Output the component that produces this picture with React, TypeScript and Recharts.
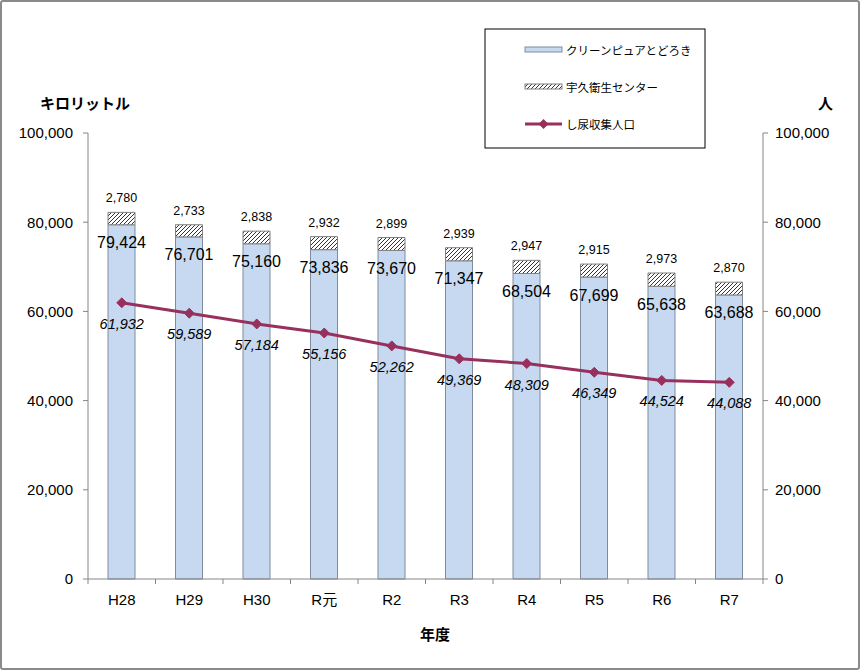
import React from 'react';
import {
  ComposedChart,
  Bar,
  Line,
  XAxis,
  YAxis,
  LabelList,
} from 'recharts';

// 年度
const categories = ['H28', 'H29', 'H30', 'R元', 'R2', 'R3', 'R4', 'R5', 'R6', 'R7'];
// クリーンピュアとどろき 処理量 (キロリットル)
const todorokiValues = [79424, 76701, 75160, 73836, 73670, 71347, 68504, 67699, 65638, 63688];
// 宇久衛生センター 処理量 (キロリットル)
const ukuValues = [2780, 2733, 2838, 2932, 2899, 2939, 2947, 2915, 2973, 2870];
// し尿収集人口 (人)
const populationValues = [61932, 59589, 57184, 55156, 52262, 49369, 48309, 46349, 44524, 44088];
const axisTicks = [0, 20000, 40000, 60000, 80000, 100000];

const data = categories.map((name, i) => ({
  name,
  todoroki: todorokiValues[i],
  uku: ukuValues[i],
  population: populationValues[i],
}));

const W = 860;
const H = 670;
const MARGIN = { top: 133, right: 7, bottom: 61, left: 8 };
const LEFT_AXIS_W = 80;
const RIGHT_AXIS_W = 90;
const BAND = (W - MARGIN.left - MARGIN.right - LEFT_AXIS_W - RIGHT_AXIS_W) / categories.length;

const NUM_FONT = '"Liberation Sans", Arial, sans-serif';
const JP_FONT = '"Noto Sans CJK JP", "Noto Sans", sans-serif';
const AXIS_COLOR = '#868686';
const LINE_COLOR = '#98305E';
const BAR_FILL = '#C6D9F1';
const BAR_STROKE = '#7F8CA0';

const fmt = (v: number) => v.toLocaleString('en-US');

const XTick = (props: any) => {
  const { x, y, payload, index } = props;
  const axisY = y - 5;
  const left = x - BAND / 2;
  const right = x + BAND / 2;
  return (
    <g>
      <line x1={left} x2={left} y1={axisY} y2={axisY + 5} stroke={AXIS_COLOR} />
      {index === categories.length - 1 && (
        <line x1={right} x2={right} y1={axisY} y2={axisY + 5} stroke={AXIS_COLOR} />
      )}
      <text
        x={x}
        y={axisY + 20}
        textAnchor="middle"
        dominantBaseline="central"
        fontSize={15}
        fontFamily={`${NUM_FONT.split(',')[0]}, ${JP_FONT}`}
        fill="#000"
      >
        {payload.value}
      </text>
    </g>
  );
};

const TodorokiLabel = (props: any) => {
  const { x, y, width, value } = props;
  return (
    <text
      x={x + width / 2}
      y={y + 18}
      textAnchor="middle"
      dominantBaseline="central"
      fontSize={16}
      fontFamily={NUM_FONT}
      fill="#000"
    >
      {fmt(value)}
    </text>
  );
};

const UkuLabel = (props: any) => {
  const { x, y, width, value } = props;
  return (
    <text
      x={x + width / 2}
      y={y - 14}
      textAnchor="middle"
      dominantBaseline="central"
      fontSize={12.5}
      fontFamily={NUM_FONT}
      fill="#000"
    >
      {fmt(value)}
    </text>
  );
};

const PopulationLabel = (props: any) => {
  const { x, y, value } = props;
  return (
    <text
      x={x}
      y={y + 21}
      textAnchor="middle"
      dominantBaseline="central"
      fontSize={14.5}
      fontStyle="italic"
      fontFamily={NUM_FONT}
      fill="#000"
    >
      {fmt(value)}
    </text>
  );
};

const Diamond = (props: any) => {
  const { cx, cy } = props;
  if (cx == null || cy == null) return null;
  const r = 5;
  return (
    <path
      d={`M${cx},${cy - r} L${cx + r},${cy} L${cx},${cy + r} L${cx - r},${cy} Z`}
      fill={LINE_COLOR}
      stroke={LINE_COLOR}
    />
  );
};

const LegendBox = () => (
  <svg
    width={222}
    height={121}
    style={{ position: 'absolute', left: 484, top: 28, overflow: 'visible' }}
  >
    <defs>
      <pattern id="hatchLegend" patternUnits="userSpaceOnUse" width="4" height="4">
        <rect width="4" height="4" fill="#fff" />
        <path d="M-1,1 l2,-2 M0,4 l4,-4 M3,5 l2,-2" stroke="#333" strokeWidth={1} />
      </pattern>
    </defs>
    <rect x={1} y={1} width={220} height={119} fill="#fff" stroke="#000" strokeWidth={1} />
    <rect x={41} y={19} width={37} height={5} fill={BAR_FILL} stroke={BAR_STROKE} />
    <text x={82} y={22} dominantBaseline="central" fontSize={11.5} fontFamily={JP_FONT}>
      クリーンピュアとどろき
    </text>
    <rect x={41} y={56} width={37} height={5} fill="url(#hatchLegend)" stroke="#808080" />
    <text x={82} y={59} dominantBaseline="central" fontSize={11.5} fontFamily={JP_FONT}>
      宇久衛生センター
    </text>
    <line x1={41} x2={78} y1={96} y2={96} stroke={LINE_COLOR} strokeWidth={3} />
    <path d="M59.5,91 L64.5,96 L59.5,101 L54.5,96 Z" fill={LINE_COLOR} />
    <text x={82} y={96} dominantBaseline="central" fontSize={11.5} fontFamily={JP_FONT}>
      し尿収集人口
    </text>
  </svg>
);

const titleStyle: React.CSSProperties = {
  position: 'absolute',
  fontFamily: JP_FONT,
  fontWeight: 'bold',
  fontSize: 15,
  color: '#000',
  lineHeight: '20px',
  whiteSpace: 'nowrap',
};

export default function App() {
  return (
    <div
      style={{
        position: 'absolute',
        left: 0,
        top: 0,
        width: W,
        height: H,
        background: '#fff',
        overflow: 'hidden',
      }}
    >
      <ComposedChart width={W} height={H} data={data} margin={MARGIN}>
        <defs>
          <pattern id="hatch" patternUnits="userSpaceOnUse" width="4" height="4">
            <rect width="4" height="4" fill="#fff" />
            <path d="M-1,1 l2,-2 M0,4 l4,-4 M3,5 l2,-2" stroke="#333" strokeWidth={1} />
          </pattern>
        </defs>
        <XAxis
          dataKey="name"
          stroke={AXIS_COLOR}
          tickLine={false}
          tickSize={5}
          tickMargin={0}
          height={30}
          tick={<XTick />}
          interval={0}
        />
        <YAxis
          yAxisId="left"
          width={LEFT_AXIS_W}
          domain={[0, 100000]}
          ticks={axisTicks}
          tickFormatter={fmt}
          stroke={AXIS_COLOR}
          tickSize={5}
          tickMargin={10}
          tick={{ fill: '#000', fontSize: 15, fontFamily: NUM_FONT }}
          interval={0}
        />
        <YAxis
          yAxisId="right"
          orientation="right"
          width={RIGHT_AXIS_W}
          domain={[0, 100000]}
          ticks={axisTicks}
          tickFormatter={fmt}
          stroke={AXIS_COLOR}
          tickSize={5}
          tickMargin={7}
          tick={{ fill: '#000', fontSize: 15, fontFamily: NUM_FONT, textAnchor: 'start' }}
          interval={0}
        />
        <Bar
          yAxisId="left"
          dataKey="todoroki"
          stackId="a"
          barSize={27}
          fill={BAR_FILL}
          stroke={BAR_STROKE}
          strokeWidth={1}
          isAnimationActive={false}
        >
          <LabelList dataKey="todoroki" content={<TodorokiLabel />} />
        </Bar>
        <Bar
          yAxisId="left"
          dataKey="uku"
          stackId="a"
          barSize={27}
          fill="url(#hatch)"
          stroke="#808080"
          strokeWidth={1}
          isAnimationActive={false}
        >
          <LabelList dataKey="uku" content={<UkuLabel />} />
        </Bar>
        <Line
          yAxisId="right"
          dataKey="population"
          type="linear"
          stroke={LINE_COLOR}
          strokeWidth={3}
          dot={<Diamond />}
          activeDot={false}
          isAnimationActive={false}
        >
          <LabelList dataKey="population" content={<PopulationLabel />} />
        </Line>
      </ComposedChart>

      <LegendBox />

      <div style={{ ...titleStyle, left: 40, top: 93 }}>キロリットル</div>
      <div style={{ ...titleStyle, left: 818, top: 93 }}>人</div>
      <div style={{ ...titleStyle, left: 420, top: 624 }}>年度</div>

      <div
        style={{
          position: 'absolute',
          inset: 0,
          border: '2px solid #8a8a8a',
          borderRadius: 3,
          pointerEvents: 'none',
        }}
      />
    </div>
  );
}
